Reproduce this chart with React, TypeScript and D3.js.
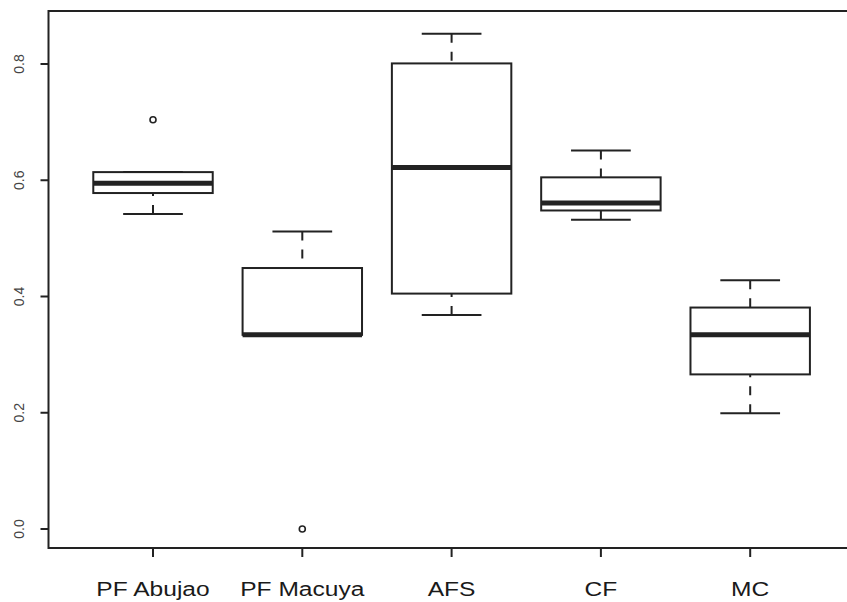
import React from "react";
import * as d3 from "d3";

// Group labels and five-number summaries for each box
const categories = ["PF Abujao", "PF Macuya", "AFS", "CF", "MC"];
const whiskerLow = [0.542, 0.334, 0.368, 0.532, 0.199];
const q1 = [0.578, 0.334, 0.405, 0.548, 0.266];
const median = [0.595, 0.334, 0.622, 0.561, 0.334];
const q3 = [0.614, 0.449, 0.801, 0.605, 0.381];
const whiskerHigh = [0.614, 0.512, 0.852, 0.651, 0.428];
const outliers: number[][] = [[0.704], [0.0], [], [], []];
const yTicks = [0.0, 0.2, 0.4, 0.6, 0.8];

const W = 847;
const H = 602;

export default function App() {
  const x = d3.scaleLinear().domain([0.3, 5.7]).range([48.5, 854.7]);
  const y = d3.scaleLinear().domain([0, 0.8]).range([529, 64]);
  const yTop = y.invert(11);
  const yBot = y.invert(548);

  const boxHalf = x(1.4) - x(1);
  const capHalf = boxHalf / 2;
  const stroke = "#222";
  const lw = 2;

  return (
    <svg
      width={W}
      height={H}
      style={{ position: "fixed", left: 0, top: 0, background: "#fff" }}
      fontFamily="'Liberation Sans', Arial, Helvetica, sans-serif"
    >
      <rect x={0} y={0} width={W} height={H} fill="#fff" />
      {categories.map((c, i) => {
        const cx = x(i + 1);
        return (
          <g key={c}>
            {/* whiskers, drawn from the staple toward the box */}
            <line x1={cx} x2={cx} y1={y(whiskerHigh[i])} y2={y(q3[i])} stroke={stroke} strokeWidth={lw} strokeDasharray="9 9" />
            <line x1={cx} x2={cx} y1={y(whiskerLow[i])} y2={y(q1[i])} stroke={stroke} strokeWidth={lw} strokeDasharray="9 9" />
            <line x1={cx - capHalf} x2={cx + capHalf} y1={y(whiskerHigh[i])} y2={y(whiskerHigh[i])} stroke={stroke} strokeWidth={lw} />
            <line x1={cx - capHalf} x2={cx + capHalf} y1={y(whiskerLow[i])} y2={y(whiskerLow[i])} stroke={stroke} strokeWidth={lw} />
            <rect
              x={cx - boxHalf}
              y={y(q3[i])}
              width={boxHalf * 2}
              height={y(q1[i]) - y(q3[i])}
              fill="#fff"
              stroke={stroke}
              strokeWidth={lw}
            />
            <line x1={cx - boxHalf} x2={cx + boxHalf} y1={y(median[i])} y2={y(median[i])} stroke={stroke} strokeWidth={5} />
            {outliers[i].map((v, k) => (
              <circle key={k} cx={cx} cy={y(v)} r={3} fill="none" stroke={stroke} strokeWidth={1.6} />
            ))}
          </g>
        );
      })}
      {/* plot frame */}
      <rect x={x(0.3)} y={y(yTop)} width={x(5.7) - x(0.3)} height={y(yBot) - y(yTop)} fill="none" stroke={stroke} strokeWidth={lw} />
      {/* y axis */}
      {yTicks.map((t) => (
        <g key={t}>
          <line x1={x(0.3)} x2={x(0.3) - 8} y1={y(t)} y2={y(t)} stroke={stroke} strokeWidth={lw} />
          <text
            transform={`translate(${20},${y(t)}) rotate(-90)`}
            textAnchor="middle"
            dominantBaseline="middle"
            fontSize={14}
            fill="#444"
          >
            {d3.format(".1f")(t)}
          </text>
        </g>
      ))}
      {/* x axis */}
      {categories.map((c, i) => (
        <g key={c}>
          <line x1={x(i + 1)} x2={x(i + 1)} y1={y(yBot)} y2={y(yBot) + 9} stroke={stroke} strokeWidth={lw} />
          <text
            transform={`translate(${x(i + 1)},596) scale(1.17,1)`}
            textAnchor="middle"
            fontSize={21}
            fill="#1a1a1a"
          >
            {c}
          </text>
        </g>
      ))}
    </svg>
  );
}
